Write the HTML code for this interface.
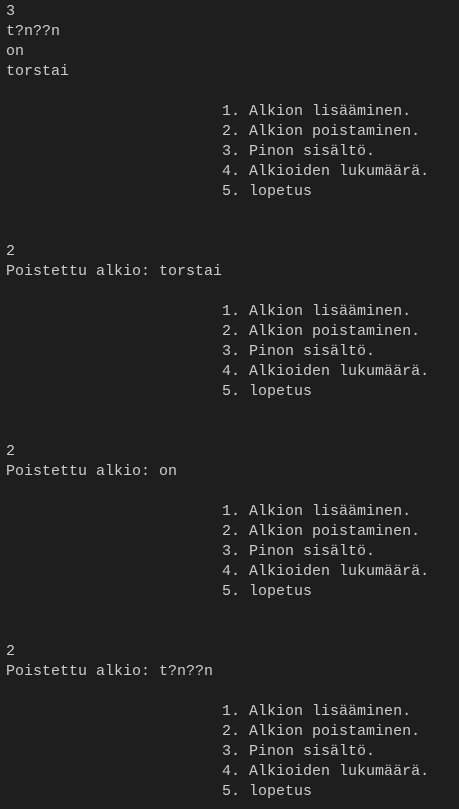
<!DOCTYPE html>
<html><head><meta charset="utf-8"><style>
html,body{margin:0;padding:0;background:#1e1e1e;width:459px;height:809px;overflow:hidden}
pre{margin:0;padding:2px 0 0 6px;font-family:"Liberation Mono",monospace;font-size:15px;line-height:20px;color:#cccccc}
</style></head><body><pre>3
t?n??n
on
torstai

                        1. Alkion lisääminen.
                        2. Alkion poistaminen.
                        3. Pinon sisältö.
                        4. Alkioiden lukumäärä.
                        5. lopetus


2
Poistettu alkio: torstai

                        1. Alkion lisääminen.
                        2. Alkion poistaminen.
                        3. Pinon sisältö.
                        4. Alkioiden lukumäärä.
                        5. lopetus


2
Poistettu alkio: on

                        1. Alkion lisääminen.
                        2. Alkion poistaminen.
                        3. Pinon sisältö.
                        4. Alkioiden lukumäärä.
                        5. lopetus


2
Poistettu alkio: t?n??n

                        1. Alkion lisääminen.
                        2. Alkion poistaminen.
                        3. Pinon sisältö.
                        4. Alkioiden lukumäärä.
                        5. lopetus
</pre></body></html>
